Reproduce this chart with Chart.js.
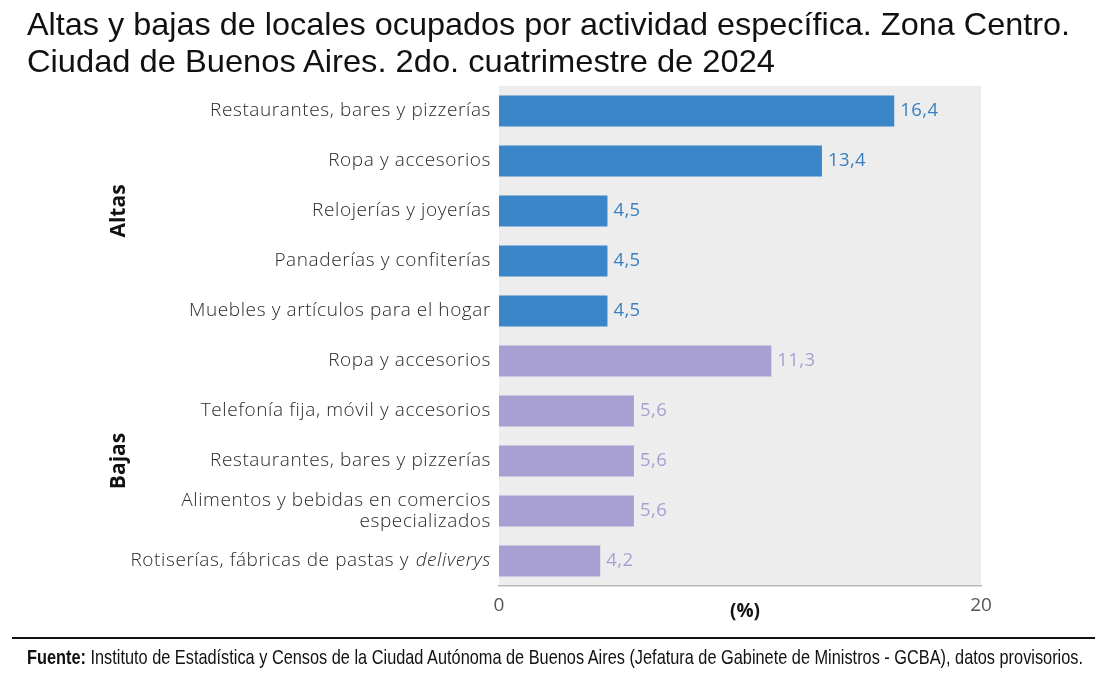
<!DOCTYPE html>
<html>
<head>
<meta charset="utf-8">
<script src="https://cdn.jsdelivr.net/npm/chart.js@4/dist/chart.umd.min.js"></script>
<style>
  html, body { margin: 0; padding: 0; background: #fff; }
  #wrap { position: relative; width: 1111px; height: 682px; overflow: hidden; }
  .fit { position: absolute; left: 27px; transform-origin: 0 0; white-space: nowrap; font-family: "Liberation Sans", Arial, sans-serif; color: #111; }
  #t1 { top: 6px; font-size: 32px; line-height: 37px; }
  #t2 { top: 43px; font-size: 32px; line-height: 37px; }
  #rule { position: absolute; left: 12px; top: 637px; width: 1083px; height: 2px; background: #111; }
  #source { top: 645px; font-size: 21px; line-height: 24px; }
  #cv { position: absolute; left: 0; top: 0; }
</style>
</head>
<body>
<div id="wrap">
  <canvas id="cv" width="1111" height="682"></canvas>
  <div class="fit" id="t1" data-w="1043">Altas y bajas de locales ocupados por actividad específica. Zona Centro.</div>
  <div class="fit" id="t2" data-w="748">Ciudad de Buenos Aires. 2do. cuatrimestre de 2024</div>
  <div id="rule"></div>
  <div class="fit" id="source" data-w="1056"><b>Fuente:</b> Instituto de Estadística y Censos de la Ciudad Autónoma de Buenos Aires (Jefatura de Gabinete de Ministros - GCBA), datos provisorios.</div>
</div>
<script>
document.querySelectorAll(".fit").forEach(el => {
  const w = el.getBoundingClientRect().width;
  const target = parseFloat(el.dataset.w);
  el.style.transform = "scaleX(" + (target / w) + ")";
});

const categorias = [
  "Restaurantes, bares y pizzerías",
  "Ropa y accesorios",
  "Relojerías y joyerías",
  "Panaderías y confiterías",
  "Muebles y artículos para el hogar",
  "Ropa y accesorios",
  "Telefonía fija, móvil y accesorios",
  "Restaurantes, bares y pizzerías",
  ["Alimentos y bebidas en comercios", "especializados"],
  "Rotiserías, fábricas de pastas y |deliverys"
];
const valores = [16.4, 13.4, 4.5, 4.5, 4.5, 11.3, 5.6, 5.6, 5.6, 4.2];
const grupos = ["Altas","Altas","Altas","Altas","Altas","Bajas","Bajas","Bajas","Bajas","Bajas"];
const nombresGrupos = ["Altas", "Bajas"];
const ejeX = { min: 0, max: 20, paso: 20 };
const ejeTitulo = "(%)";

const colorBarra = { Altas: "#3a86c8", Bajas: "#a89fd2" };
const colorValor = { Altas: "#3a80c0", Bajas: "#a9a0d2" };
const labelFont = '"Open Sans", "Noto Sans", sans-serif';
const labelW = "300 ";

const decorPlugin = {
  id: "decor",
  beforeDraw(chart) {
    const { ctx, chartArea: a } = chart;
    ctx.save();
    ctx.fillStyle = "#ededed";
    ctx.fillRect(a.left, a.top, a.right - a.left, a.bottom - a.top);
    ctx.restore();
  },
  afterDraw(chart) {
    const { ctx, chartArea: a } = chart;
    const ys = chart.scales.y;
    ctx.save();
    ctx.fillStyle = "#2a2a2a";
    ctx.textBaseline = "middle";
    ctx.textAlign = "right";
    ctx.letterSpacing = "0.6px";
    const rx = a.left - 8;
    const f = labelW + "19px " + labelFont;
    categorias.forEach((c, i) => {
      const y = ys.getPixelForValue(i);
      if (Array.isArray(c)) {
        ctx.font = f;
        const lh = 21;
        c.forEach((ln, k) => {
          ctx.fillText(ln, rx, y + (k - (c.length - 1) / 2) * lh);
        });
      } else if (c.indexOf("|") >= 0) {
        const parts = c.split("|");
        ctx.font = "italic " + f;
        const w2 = ctx.measureText(parts[1]).width;
        ctx.fillText(parts[1], rx, y);
        ctx.font = f;
        ctx.fillText(parts[0], rx - w2 - 1, y);
      } else {
        ctx.font = f;
        ctx.fillText(c, rx, y);
      }
    });
    ctx.letterSpacing = "0px";
    nombresGrupos.forEach(g => {
      const idx = grupos.map((v, i) => v === g ? i : -1).filter(i => i >= 0);
      const y0 = ys.getPixelForValue(idx[0]);
      const y1 = ys.getPixelForValue(idx[idx.length - 1]);
      const yc = (y0 + y1) / 2;
      ctx.save();
      ctx.translate(119, yc);
      ctx.rotate(-Math.PI / 2);
      ctx.textAlign = "center";
      ctx.textBaseline = "middle";
      ctx.fillStyle = "#111";
      ctx.font = "bold 21px " + '"Open Sans", "Noto Sans", sans-serif';
      ctx.fillText(g, 0, 0);
      ctx.restore();
    });
    const meta = chart.getDatasetMeta(0);
    ctx.textAlign = "left";
    ctx.textBaseline = "middle";
    ctx.letterSpacing = "0.4px";
    ctx.font = "18.5px " + labelFont;
    meta.data.forEach((bar, i) => {
      ctx.fillStyle = colorValor[grupos[i]];
      ctx.fillText(valores[i].toFixed(1).replace(".", ","), bar.x + 6, bar.y);
    });
    ctx.letterSpacing = "0px";
    ctx.fillStyle = "#111";
    ctx.textAlign = "center";
    ctx.font = "bold 19px " + '"Open Sans", "Noto Sans", sans-serif';
    ctx.fillText(ejeTitulo, 745, 612);
    ctx.restore();
  }
};

new Chart(document.getElementById("cv"), {
  type: "bar",
  data: {
    labels: categorias,
    datasets: [{
      data: valores,
      backgroundColor: grupos.map(g => colorBarra[g]),
      borderWidth: 0,
      barPercentage: 0.62,
      categoryPercentage: 1.0
    }]
  },
  options: {
    indexAxis: "y",
    responsive: false,
    animation: false,
    layout: { padding: { left: 0, right: 130, top: 86, bottom: 0 } },
    plugins: { legend: { display: false }, tooltip: { enabled: false } },
    scales: {
      y: {
        ticks: { display: false },
        grid: { display: false },
        border: { display: false },
        afterFit(s) { s.width = 499; }
      },
      x: {
        min: ejeX.min, max: ejeX.max,
        ticks: { stepSize: ejeX.paso, color: "#555", font: { family: labelFont, size: 19 }, padding: 8 },
        grid: { display: false, drawTicks: false },
        border: { display: true, color: "#b8b8b8", width: 1.5 },
        afterFit(s) { s.height = 96; }
      }
    }
  },
  plugins: [decorPlugin]
});
</script>
</body>
</html>
